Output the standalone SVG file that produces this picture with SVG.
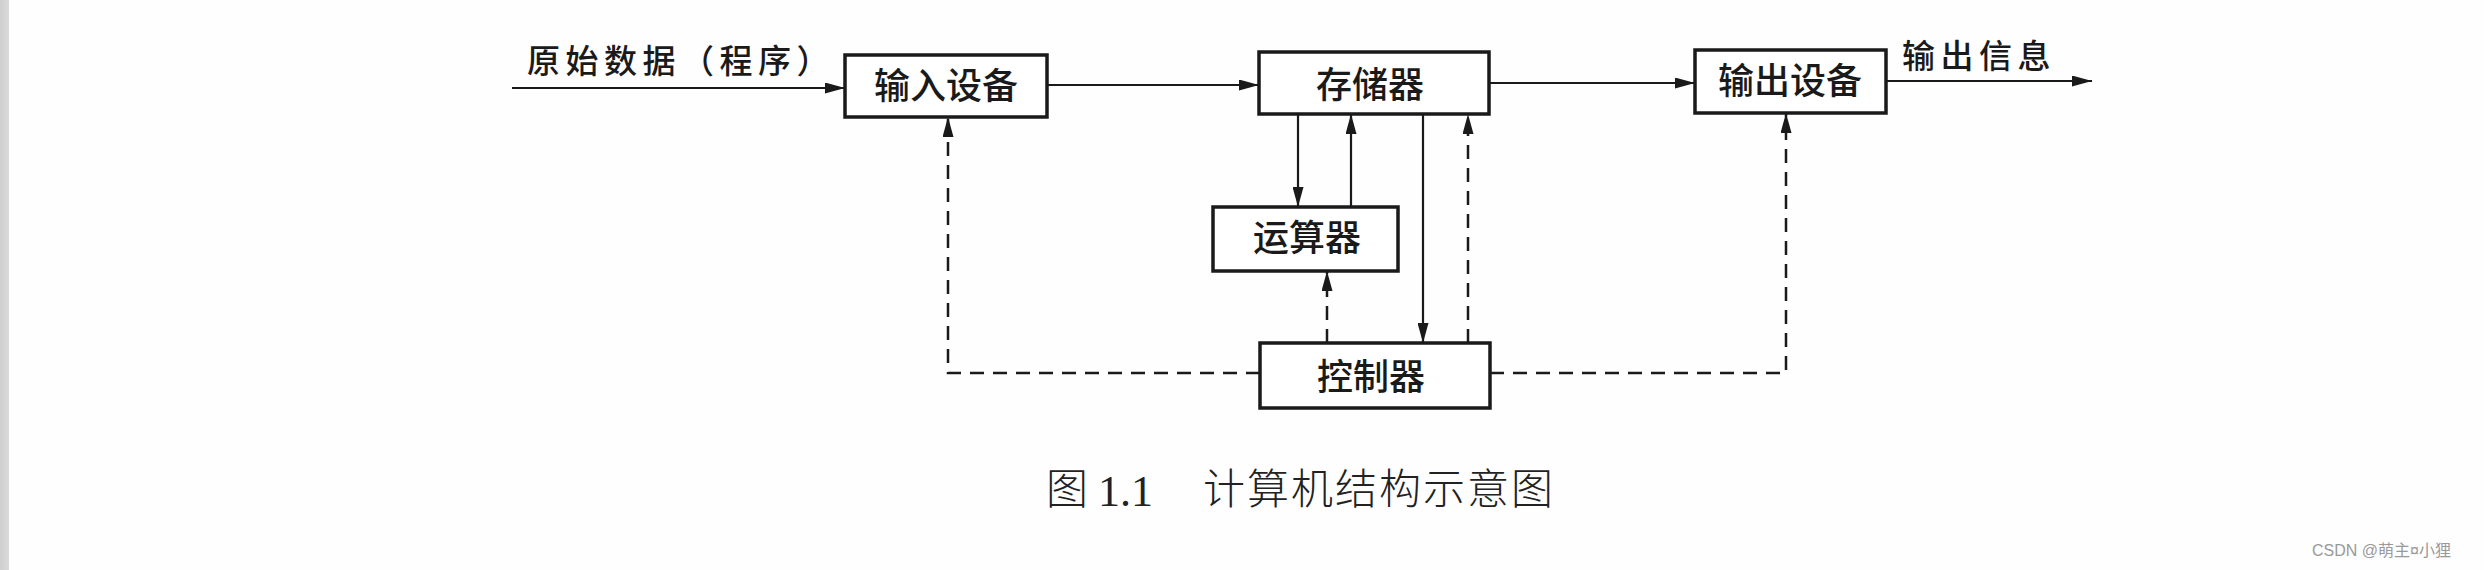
<svg xmlns="http://www.w3.org/2000/svg" width="2484" height="570" viewBox="0 0 2484 570">
<defs>
<style>
.box{fill:#fff;stroke:#1a1a1a;stroke-width:3.5}
.bt{font-family:"Noto Sans CJK SC","Noto Sans",sans-serif;font-size:36px;fill:#1a1a1a;text-anchor:middle;font-weight:500}
.lbl{font-family:"Noto Sans CJK SC","Noto Sans",sans-serif;font-size:33px;fill:#1a1a1a;letter-spacing:5.5px;font-weight:500}
.cap{font-family:"Noto Sans CJK SC","Noto Sans",sans-serif;font-size:42px;fill:#222;font-weight:300}
.solid{fill:none;stroke:#1a1a1a;stroke-width:2.2}
.dash{fill:none;stroke:#1a1a1a;stroke-width:2.5;stroke-dasharray:14 9}
</style>
<marker id="ah" markerUnits="userSpaceOnUse" markerWidth="20" markerHeight="11" refX="20" refY="5.5" orient="auto">
<path d="M0,0 L20,5.5 L0,11 z" fill="#1a1a1a"/>
</marker>
<linearGradient id="strip" x1="0" x2="1" y1="0" y2="0">
<stop offset="0" stop-color="#cfcfcf"/>
<stop offset="1" stop-color="#dadada"/>
</linearGradient>
</defs>
<rect x="0" y="0" width="2484" height="570" fill="#fefefe"/>
<rect x="0" y="0" width="9" height="570" fill="url(#strip)"/>

<g id="connectors">
<path class="solid" d="M512,88 L845,88" marker-end="url(#ah)"/>
<path class="solid" d="M1047,85 L1259,85" marker-end="url(#ah)"/>
<path class="solid" d="M1489,83 L1695,83" marker-end="url(#ah)"/>
<path class="solid" d="M1886,81 L2092,81" marker-end="url(#ah)"/>
<path class="solid" d="M1298,114 L1298,207" marker-end="url(#ah)"/>
<path class="solid" d="M1351,207 L1351,114" marker-end="url(#ah)"/>
<path class="dash" d="M1327,343 L1327,271" marker-end="url(#ah)"/>
<path class="solid" d="M1423,114 L1423,343" marker-end="url(#ah)"/>
<path class="dash" d="M1468,343 L1468,114" marker-end="url(#ah)"/>
<path class="dash" d="M1260,373 L948,373 L948,117" marker-end="url(#ah)"/>
<path class="dash" d="M1490,373 L1786,373 L1786,113" marker-end="url(#ah)"/>
</g>

<g id="input">
<rect class="box" x="845" y="55" width="202" height="62"/>
<text class="bt" x="946" y="99">输入设备</text>
</g>
<g id="memory">
<rect class="box" x="1259" y="52" width="230" height="62"/>
<text class="bt" x="1370" y="98">存储器</text>
</g>
<g id="alu">
<rect class="box" x="1213" y="207" width="185" height="64"/>
<text class="bt" x="1307" y="251">运算器</text>
</g>
<g id="controller">
<rect class="box" x="1260" y="343" width="230" height="65"/>
<text class="bt" x="1371" y="390">控制器</text>
</g>
<g id="output">
<rect class="box" x="1695" y="50" width="191" height="63"/>
<text class="bt" x="1790" y="94">输出设备</text>
</g>

<g id="labels">
<text class="lbl" x="527" y="73">原始数据（程序）</text>
<text class="lbl" x="1902" y="68">输出信息</text>
</g>

<g id="caption">
<text class="cap" x="1046" y="504">图</text>
<text x="1098" y="506" font-family="Liberation Serif, serif" font-size="44" fill="#222">1.1</text>
<text class="cap" x="1203" y="504" letter-spacing="2">计算机结构示意图</text>
</g>

<text x="2312" y="556" font-family="'Liberation Sans','Noto Sans CJK SC',sans-serif" font-size="16" fill="#999">CSDN @萌主¤小狸</text>
</svg>
